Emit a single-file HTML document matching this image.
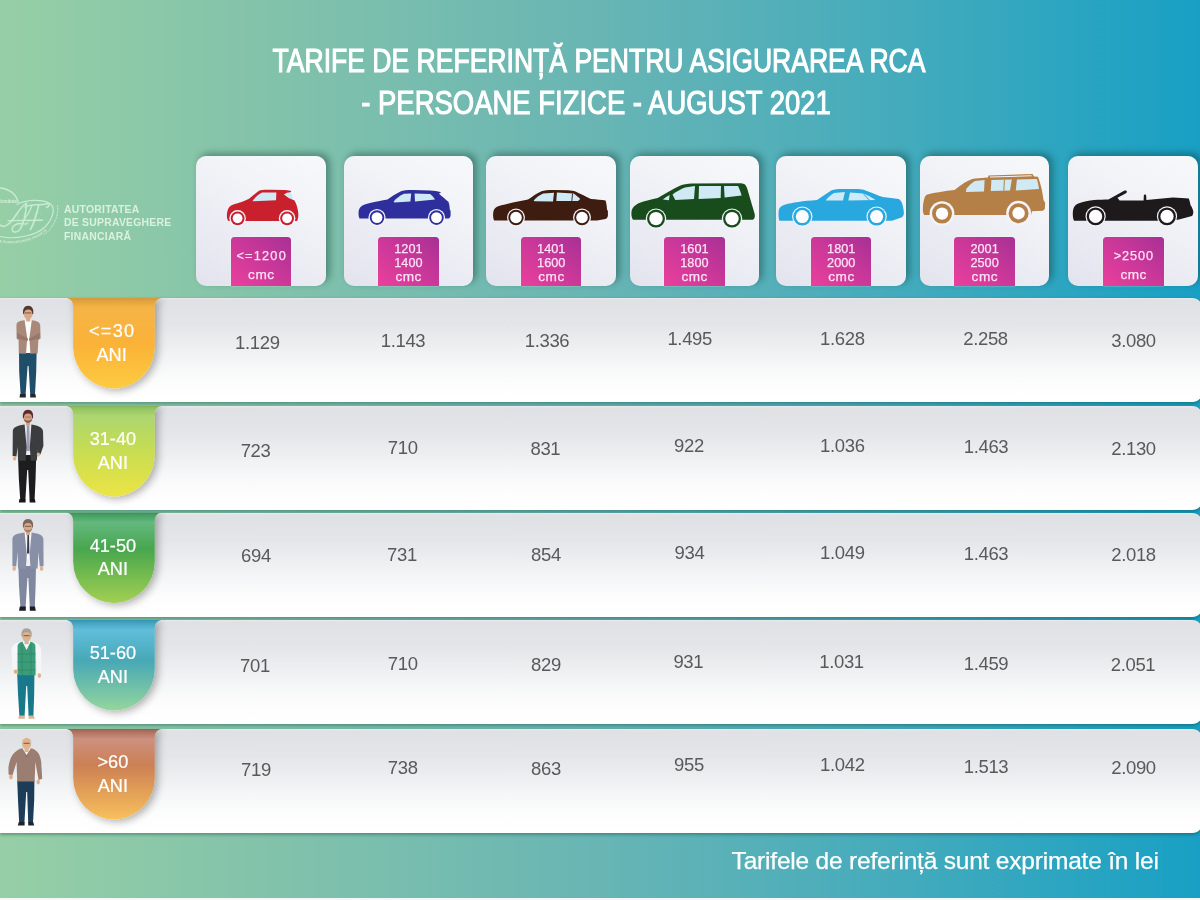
<!DOCTYPE html>
<html lang="ro"><head><meta charset="utf-8"><title>Tarife de referință RCA - persoane fizice - august 2021</title>
<style>
html,body{margin:0;padding:0}
html{background:#fff}
body{width:1200px;height:900px;position:relative;overflow:hidden;font-family:"Liberation Sans",sans-serif;
background:linear-gradient(to right,#96cfa6 0%,#80c1ab 25%,#68b5b4 50%,#44abbc 75%,#18a0c4 100%)}
.abs{position:absolute}
.strip{left:0;top:897.5px;width:1200px;height:3px;background:#f4f6f7}
.title{color:#fff;font-size:33px;line-height:36px;white-space:nowrap;-webkit-text-stroke:1.1px #fff}
.t1{left:598.5px;top:42.6px;transform:translateX(-50%) scaleX(0.8045)}
.t2{left:596px;top:84.6px;transform:translateX(-50%) scaleX(0.832)}
.logotxt{left:64px;top:202.5px;color:#d9f1de;font-weight:bold;font-size:10.4px;line-height:13.5px;white-space:nowrap;letter-spacing:0.25px}
.card{width:129.5px;height:129.5px;top:156.3px;border-radius:10px;background:linear-gradient(28deg,#e2e3ed 0%,#ebecf3 35%,#f3f4f8 70%,#f7f8fa 100%);box-shadow:3.5px -3px 7px rgba(0,40,30,.36)}
.lab{width:60.4px;height:49px;top:236.5px;border-radius:3.5px 3.5px 0 0;background:linear-gradient(40deg,#ea409c 0%,#cb3899 50%,#a83094 100%);color:#fde2f5;font-size:12.7px;line-height:14px;text-align:center;white-space:nowrap;box-shadow:0 0 1.5px rgba(255,255,255,.9);-webkit-text-stroke:0.25px #fde2f5}
.lab div{position:absolute;left:0;width:100%}
.row{left:0;width:1202.5px;border-radius:0 11px 11px 0;background:linear-gradient(to bottom,#e9eaed 0,#dfe1e5 2%,#e3e5e8 25%,#eceef0 45%,#f6f7f8 65%,#fdfdfd 82%,#fff 100%);box-shadow:0 1.5px 3px rgba(0,60,50,.35)}
.num{color:#58595b;font-size:18.5px;line-height:20px;height:20px;white-space:nowrap;transform:translate(-50%,-50%);letter-spacing:-0.35px}
.tagtxt{width:82px;text-align:center;color:#fff;font-size:18.2px;line-height:23.5px;white-space:nowrap;-webkit-text-stroke:0.2px #fff}
.foot{left:731.6px;-webkit-text-stroke:0.25px #fff;top:846.4px;color:#fff;font-size:24.5px;line-height:30px;white-space:nowrap;letter-spacing:-0.2px}
svg{position:absolute;overflow:visible}
</style></head><body>
<div class="abs title t1">TARIFE DE REFERINȚĂ PENTRU ASIGURAREA RCA</div>
<div class="abs title t2">- PERSOANE FIZICE - AUGUST 2021</div>
<svg class="abs" style="left:0;top:180px" width="62" height="70" viewBox="0 180 62 70">
<defs><path id="arcBot" d="M-3,241.5 C14,246 34,242 47,230.5"/></defs>
<g fill="none" stroke="#d6f1dc" stroke-linecap="round" opacity=".82">
<path d="M0,188 C9,189 16,194 18.4,202.5" stroke-width="1.3"/>
<path d="M17,204.5 C26,199.5 42,199 50,203.5 C56,208 53,219 45,227 C36,235.5 16,240 0,236.5" stroke-width="1.2"/>
<path d="M57.5,205.5 C59,215 54,227 44.5,234.6" stroke-width="0.9" stroke-dasharray="1.6 1.4"/>
<path d="M-2,222.5 C3,231 10,224 16,215 C20,209 23,205 26.4,203.4 C26,212 24,223 20,229.4 C17,233.6 11,232.6 12.4,228 C14,224 19,222.5 23,224" stroke-width="1.5"/>
<path d="M8,220.6 L42.5,220.2" stroke-width="1.4"/>
<path d="M25,207 C31,204 40,205.4 45.6,204 C50.4,202.6 50,206.4 46.4,207.2" stroke-width="1.4"/>
<path d="M38.6,205.4 C37,213 34,223 30.4,229.6" stroke-width="1.7"/>
<path d="M32,205.6 C30,211 27.6,215.4 24.6,218.4 C21,222 24,226 27.4,223" stroke-width="1.3"/>
</g>
<text x="-2.5" y="203.4" font-family="Liberation Sans,sans-serif" font-weight="bold" font-size="4.6" fill="#dcf3e1" opacity=".9">România</text>
<text font-family="Liberation Sans,sans-serif" font-weight="bold" font-size="3.3" fill="#dcf3e1" opacity=".8" letter-spacing=".15"><textPath href="#arcBot" startOffset="0">DE SUPRAVEGHERE FINANCIARĂ</textPath></text>
<text x="10" y="226" font-family="Liberation Serif,serif" font-style="italic" font-size="20" fill="#d6f1dc" opacity=".13" textLength="32" lengthAdjust="spacingAndGlyphs">ASF</text>
</svg>
<div class="abs logotxt">AUTORITATEA<br>DE SUPRAVEGHERE<br>FINANCIARĂ</div>
<div class="abs card" style="left:196.3px"></div>
<div class="abs card" style="left:343.7px"></div>
<div class="abs card" style="left:486.3px"></div>
<div class="abs card" style="left:629.7px"></div>
<div class="abs card" style="left:776.3px"></div>
<div class="abs card" style="left:919.7px"></div>
<div class="abs card" style="left:1068.2px"></div>
<div class="abs lab" style="left:230.9px"><div style="top:12.2px; letter-spacing:1.25px;margin-left:0.6px;">&lt;=1200</div><div style="top:31.2px; font-size:13.6px;letter-spacing:0.55px;margin-left:0.3px;">cmc</div></div>
<div class="abs lab" style="left:378.2px"><div style="top:5.2px;">1201</div><div style="top:19.2px;">1400</div><div style="top:33.0px; font-size:13.6px;letter-spacing:0.55px;margin-left:0.3px;">cmc</div></div>
<div class="abs lab" style="left:521.0px"><div style="top:5.2px;">1401</div><div style="top:19.2px;">1600</div><div style="top:33.0px; font-size:13.6px;letter-spacing:0.55px;margin-left:0.3px;">cmc</div></div>
<div class="abs lab" style="left:664.2px"><div style="top:5.2px;">1601</div><div style="top:19.2px;">1800</div><div style="top:33.0px; font-size:13.6px;letter-spacing:0.55px;margin-left:0.3px;">cmc</div></div>
<div class="abs lab" style="left:811.0px"><div style="top:5.2px;">1801</div><div style="top:19.2px;">2000</div><div style="top:33.0px; font-size:13.6px;letter-spacing:0.55px;margin-left:0.3px;">cmc</div></div>
<div class="abs lab" style="left:954.4px"><div style="top:5.2px;">2001</div><div style="top:19.2px;">2500</div><div style="top:33.0px; font-size:13.6px;letter-spacing:0.55px;margin-left:0.3px;">cmc</div></div>
<div class="abs lab" style="left:1103.2px"><div style="top:12.2px; letter-spacing:0.9px;margin-left:0.45px;">&gt;2500</div><div style="top:31.2px; font-size:13.6px;letter-spacing:0.55px;margin-left:0.3px;">cmc</div></div>
<svg class="abs" style="left:0;top:0" width="1200" height="300" viewBox="0 0 1200 300">
<g><path fill="#c8202c" d="M228.5,221 C226.5,219 226.5,214 227.6,210.5 C228.5,207 230.5,205.3 234,204.3 C240,202.6 245,201 249,198.8 C252,196.5 255,193.5 259,190.8 C261,189.9 264,189.7 270,189.7 L285,190 C288,190.2 290,190.6 291.3,191.3 L290.6,192.3 L285.5,193 C288,196.5 291,199 294.5,200.5 C296,203 297.5,207 298.2,212 C298.6,216 298.2,219 297,221 Z"/><path fill="#cfeaf5" d="M252.3,201.2 C255,197.5 258.5,194.5 262,192.5 L276.4,192.5 L276,200.3 Z"/><path fill="#cfeaf5" d="M283.8,194.3 L290.7,192.6 C291.8,195 292.6,197.5 293,199.6 C290.5,199.2 287,197.5 283.8,194.3 Z"/><circle cx="237.6" cy="218.3" r="8.3" fill="#f3f3f8"/><circle cx="237.6" cy="218.3" r="6.9" fill="#c8202c"/><circle cx="237.6" cy="218.3" r="4.9" fill="#fdfdff"/><circle cx="287.1" cy="218.3" r="8.3" fill="#f3f3f8"/><circle cx="287.1" cy="218.3" r="6.9" fill="#c8202c"/><circle cx="287.1" cy="218.3" r="4.9" fill="#fdfdff"/></g>
<g><path fill="#2e2e9c" d="M359.5,218.6 C358.3,216 358.3,212 359,209.5 C360,206.5 363,205 368,203.6 C375,201.8 382,200.6 387.5,199.6 C391,197 396,193.5 401,191.2 C403,190.3 407,190 413,190 L430,190.4 C434,190.7 437.5,191.2 440.3,192 L440.8,193 L438.8,193.6 C442,196.5 445.5,199.5 448.6,202 C449.3,204.5 449.8,207 449.8,209.5 L450.6,211 L450.6,215.5 C450.3,217.3 449.6,218.3 448.5,218.6 Z"/><path fill="#cfeaf5" d="M393.6,201.6 C396,198.5 400,195.5 404,193.7 L411.2,193.5 L410.4,201.6 L394.5,202.4 Z"/><path fill="#cfeaf5" d="M414.6,193.5 L430.2,194 C432,195.5 433.8,197.5 435,199.6 L415,201.5 Z"/><circle cx="377" cy="217.6" r="8.6" fill="#f3f3f8"/><circle cx="377" cy="217.6" r="7.3" fill="#2e2e9c"/><circle cx="377" cy="217.6" r="5.4" fill="#fdfdff"/><circle cx="436.5" cy="217.6" r="8.6" fill="#f3f3f8"/><circle cx="436.5" cy="217.6" r="7.3" fill="#2e2e9c"/><circle cx="436.5" cy="217.6" r="5.4" fill="#fdfdff"/></g>
<g><path fill="#3e1c10" d="M494.2,220.6 C493,218.5 492.8,214.5 493.4,211.5 C494,208.5 496,207 499,206 C506,204 518,201.5 528,199.6 C532,196.8 537,193 541.5,191.2 C544,190.3 548,190 554,190 L568,190.2 C571,190.4 573.5,190.8 575.5,191.5 C581,194 586,196.7 591,199 C596,199.4 602,199.8 605.6,200.6 C606.3,203 606.8,206 607,209.5 L607.9,211 L607.9,215.8 C607.5,217.6 606.7,218.6 605.5,219 L597,220.6 Z"/><path fill="#cfeaf5" d="M533.6,200.4 C536.5,197.3 540,194.8 543.2,193.5 L554,192.7 L553,201.4 L534.6,201.2 Z"/><path fill="#cfeaf5" d="M556.9,192.6 L573.6,193.4 C576,195 578.5,197 580.2,199 L578,201 L556.3,201 Z"/><path d="M572.6,193.4 L571.8,201" stroke="#3e1c10" stroke-width="0.9"/><circle cx="516" cy="217.5" r="9.0" fill="#f3f3f8"/><circle cx="516" cy="217.5" r="7.7" fill="#3e1c10"/><circle cx="516" cy="217.5" r="5.8" fill="#fdfdff"/><circle cx="582" cy="217.5" r="9.0" fill="#f3f3f8"/><circle cx="582" cy="217.5" r="7.7" fill="#3e1c10"/><circle cx="582" cy="217.5" r="5.8" fill="#fdfdff"/></g>
<g><path fill="#184c1c" d="M633,219.8 C631.5,218 631,214 631.6,211 C632.2,208 634,205.8 638.5,203.2 C645,200.8 652,199.2 657.7,198 C665,193.8 673,189 680.4,185.6 C683,184.3 687,183.6 692,183.4 L738,183.2 C741.5,183.2 744,183.6 745,184.6 C746.5,186.5 747.5,189 748.2,192 C749.5,196.5 751,201 752,205 C753,208 753.8,210.5 754.2,212.5 C755,214 755,216.5 754.6,217.6 C754.2,219 753.4,219.6 752.6,219.8 Z"/><path fill="#cfeaf5" d="M662.8,199.6 C665,197.8 667.4,196.2 669.6,195 L669,200.2 Z"/><path fill="#cfeaf5" d="M672.5,194.5 C676.5,191.6 681,189 685,187.6 L695,186 L694,199 L675.3,200 Z"/><path fill="#cfeaf5" d="M699,186 L721,186 L720.7,198 L698.6,199 Z"/><path fill="#cfeaf5" d="M724,186 L738,186 C739.5,189 740.8,192.5 741.6,195.5 L724.6,197.5 Z"/><circle cx="656" cy="218.6" r="10.2" fill="#f3f3f8"/><circle cx="656" cy="218.6" r="9.0" fill="#184c1c"/><circle cx="656" cy="218.6" r="6.7" fill="#fdfdff"/><circle cx="732" cy="218.6" r="10.2" fill="#f3f3f8"/><circle cx="732" cy="218.6" r="9.0" fill="#184c1c"/><circle cx="732" cy="218.6" r="6.7" fill="#fdfdff"/></g>
<g><path fill="#29a8e0" d="M779.4,220.8 C778.4,218 778.3,213.5 778.8,210 C779.3,207.5 781.5,205.8 785.3,204.5 C792,202.6 803,201 817,200 C822,196.5 827,193 831.8,190.2 C834,189.3 838,188.9 844,188.9 L858,189.1 C861,189.3 863.5,189.7 865.5,190.4 C872,192.8 878,195.2 882.8,197 C888,197.6 894,198.2 898.7,199 C900.2,200 901.4,201.5 902,203 C903,206 903.7,209.5 903.9,213 C903.8,215 903,216.5 902,217.2 L892,220.8 Z"/><path fill="#cfeaf5" d="M825.6,200.4 C828,197.4 831,194.6 834,193 L844.9,192 L843,200.5 Z"/><path fill="#cfeaf5" d="M850,192.4 L863.6,193.4 C868,195.2 872,197.5 875.5,200 L848.3,200.5 Z"/><path d="M863,193.4 L869.5,200.3" stroke="#29a8e0" stroke-width="1"/><circle cx="802.3" cy="216.6" r="10.2" fill="#f3f3f8"/><circle cx="802.3" cy="216.6" r="9.0" fill="#29a8e0"/><circle cx="802.3" cy="216.6" r="6.5" fill="#fdfdff"/><circle cx="876.6" cy="216.6" r="10.2" fill="#f3f3f8"/><circle cx="876.6" cy="216.6" r="9.0" fill="#29a8e0"/><circle cx="876.6" cy="216.6" r="6.5" fill="#fdfdff"/></g>
<g><path fill="#b48048" d="M924,214.9 L923,212 C922.6,207 923.2,202 924.5,198 C925,196 926,194.8 927.3,194.4 C935,192.6 945,191 954.5,190 C958,187.3 961.5,184.6 964.8,182.5 C968,180.4 971.5,179 975,178.4 L988,177.6 L988.5,175.6 L1032.5,174 L1034,176.4 L1038,176.8 C1039.5,181 1041,186 1041.9,190 C1042.6,194 1043.2,197.5 1043.5,200 L1045.2,203 L1044.8,209 L1043,210.8 L1032,211.2 L1031,214.9 Z"/><path fill="#f3f3f8" d="M990,176.6 L1031.5,175.2 L1031.8,176.3 L990,177.6 Z"/><path fill="#cfeaf5" d="M965.9,192 L966.5,188.6 C969,185.6 972,182.8 975,181 L984.6,180 L984,191.5 Z"/><path fill="#cfeaf5" d="M991.4,180 L1011.8,179.5 L1010,190.5 L990.8,191 Z"/><path fill="#cfeaf5" d="M1016.9,179.5 L1036.7,179 C1037.8,182 1038.6,185.5 1039,189 L1015.8,190.5 Z"/><path d="M1004.4,179.7 L1003.8,190.7" stroke="#b48048" stroke-width="1"/><circle cx="942" cy="213.6" r="12.4" fill="#f3f3f8"/><circle cx="942" cy="213.6" r="10.0" fill="#b48048"/><circle cx="942" cy="213.6" r="6.2" fill="#fdfdff"/><circle cx="1018.6" cy="213.2" r="12.4" fill="#f3f3f8"/><circle cx="1018.6" cy="213.2" r="10.0" fill="#b48048"/><circle cx="1018.6" cy="213.2" r="6.2" fill="#fdfdff"/></g>
<g><path fill="#1e1a1c" d="M1074,220.8 C1072.8,218.5 1072.5,214 1073,210.5 C1073.5,207 1075.5,204.8 1078.3,203.6 C1083,201.8 1089,200.6 1094,200 C1099,199.6 1104,199.5 1108.4,199.4 L1124.6,190.6 C1125.6,190.2 1126.6,190.6 1126.9,191.6 C1127,192.3 1126.6,192.9 1126,193.2 L1117.5,197.8 L1119.6,200.4 L1143.6,200.4 L1143.8,196 C1143.9,195 1144.4,194.6 1145,194.6 C1145.7,194.6 1146.1,195 1146.2,196 L1146.4,200 C1155,199 1164,198 1173,197.4 C1179,197.6 1184,198 1188.8,198.6 C1189.6,201 1190.2,203 1190.5,205 C1191.8,207 1193,209.5 1193.3,211.5 C1193.4,213.5 1192.8,215.2 1192,216 L1179,219.5 L1170,220.8 Z"/><circle cx="1095.6" cy="216.4" r="10.1" fill="#f3f3f8"/><circle cx="1095.6" cy="216.4" r="8.9" fill="#1e1a1c"/><circle cx="1095.6" cy="216.4" r="6.6" fill="#fdfdff"/><circle cx="1167" cy="216.4" r="10.1" fill="#f3f3f8"/><circle cx="1167" cy="216.4" r="8.9" fill="#1e1a1c"/><circle cx="1167" cy="216.4" r="6.6" fill="#fdfdff"/></g>
</svg>
<div class="abs row" style="top:298px;height:104.3px"></div>
<div class="abs row" style="top:406px;height:104.0px"></div>
<div class="abs row" style="top:512.6px;height:104.2px"></div>
<div class="abs row" style="top:620px;height:103.5px"></div>
<div class="abs row" style="top:729px;height:104.0px"></div>
<svg class="abs" style="left:0;top:0" width="240" height="900" viewBox="0 0 240 900">
<defs><filter id="sh" x="-30%" y="-20%" width="170%" height="150%"><feGaussianBlur in="SourceAlpha" stdDeviation="4.2"/><feOffset dx="2.5" dy="2"/><feComponentTransfer><feFuncA type="linear" slope="0.33"/></feComponentTransfer><feMerge><feMergeNode/><feMergeNode in="SourceGraphic"/></feMerge></filter><linearGradient id="tg0" x1="0" y1="0" x2="0" y2="1"><stop offset="0" stop-color="#cf9a3c"/><stop offset="0.03" stop-color="#e0a23e"/><stop offset="0.11" stop-color="#f6b446"/><stop offset="0.5" stop-color="#fab238"/><stop offset="1" stop-color="#fdcb40"/></linearGradient><linearGradient id="tg1" x1="0" y1="0" x2="0" y2="1"><stop offset="0" stop-color="#84b45a"/><stop offset="0.03" stop-color="#94c462"/><stop offset="0.11" stop-color="#acd670"/><stop offset="0.45" stop-color="#c4dc54"/><stop offset="1" stop-color="#ece444"/></linearGradient><linearGradient id="tg2" x1="0" y1="0" x2="0" y2="1"><stop offset="0" stop-color="#3a9058"/><stop offset="0.03" stop-color="#46a062"/><stop offset="0.11" stop-color="#64b87e"/><stop offset="0.4" stop-color="#48a64e"/><stop offset="1" stop-color="#a2d052"/></linearGradient><linearGradient id="tg3" x1="0" y1="0" x2="0" y2="1"><stop offset="0" stop-color="#3492ae"/><stop offset="0.03" stop-color="#44a4c0"/><stop offset="0.11" stop-color="#60bedb"/><stop offset="0.45" stop-color="#48a8b6"/><stop offset="1" stop-color="#94d69c"/></linearGradient><linearGradient id="tg4" x1="0" y1="0" x2="0" y2="1"><stop offset="0" stop-color="#9c5e50"/><stop offset="0.03" stop-color="#b07060"/><stop offset="0.11" stop-color="#cc907e"/><stop offset="0.4" stop-color="#cc8054"/><stop offset="1" stop-color="#f8c05c"/></linearGradient></defs>
<clipPath id="cp0"><rect x="0" y="298" width="240" height="104.8"/></clipPath><g clip-path="url(#cp0)"><path filter="url(#sh)" fill="url(#tg0)" d="M66.7,298 C70.7,298.8 73.2,301.5 73.2,307 L73.2,346.9 A40.75,41.5 0 0 0 113.95,388.4 A40.75,41.5 0 0 0 154.7,346.9 L154.7,307 C154.7,301.5 157.2,298.8 161.2,298 Z"/></g>
<clipPath id="cp1"><rect x="0" y="406" width="240" height="104.5"/></clipPath><g clip-path="url(#cp1)"><path filter="url(#sh)" fill="url(#tg1)" d="M66.7,406 C70.7,406.8 73.2,409.5 73.2,415 L73.2,454.9 A40.75,41.5 0 0 0 113.95,496.4 A40.75,41.5 0 0 0 154.7,454.9 L154.7,415 C154.7,409.5 157.2,406.8 161.2,406 Z"/></g>
<clipPath id="cp2"><rect x="0" y="512.6" width="240" height="104.7"/></clipPath><g clip-path="url(#cp2)"><path filter="url(#sh)" fill="url(#tg2)" d="M66.7,512.6 C70.7,513.4 73.2,516.1 73.2,521.6 L73.2,561.5 A40.75,41.5 0 0 0 113.95,603.0 A40.75,41.5 0 0 0 154.7,561.5 L154.7,521.6 C154.7,516.1 157.2,513.4 161.2,512.6 Z"/></g>
<clipPath id="cp3"><rect x="0" y="620" width="240" height="104.0"/></clipPath><g clip-path="url(#cp3)"><path filter="url(#sh)" fill="url(#tg3)" d="M66.7,620 C70.7,620.8 73.2,623.5 73.2,629 L73.2,668.9 A40.75,41.5 0 0 0 113.95,710.4 A40.75,41.5 0 0 0 154.7,668.9 L154.7,629 C154.7,623.5 157.2,620.8 161.2,620 Z"/></g>
<clipPath id="cp4"><rect x="0" y="729" width="240" height="104.5"/></clipPath><g clip-path="url(#cp4)"><path filter="url(#sh)" fill="url(#tg4)" d="M66.7,729 C70.7,729.8 73.2,732.5 73.2,738 L73.2,777.9 A40.75,41.5 0 0 0 113.95,819.4 A40.75,41.5 0 0 0 154.7,777.9 L154.7,738 C154.7,732.5 157.2,729.8 161.2,729 Z"/></g>
</svg>
<div class="abs tagtxt" style="left:70.6px;top:320.2px"><span style="letter-spacing:1.2px;margin-right:-1.2px">&lt;=30</span><br>ANI</div>
<div class="abs tagtxt" style="left:71.9px;top:428.2px">31-40<br>ANI</div>
<div class="abs tagtxt" style="left:71.9px;top:534.8px">41-50<br>ANI</div>
<div class="abs tagtxt" style="left:71.9px;top:642.2px">51-60<br>ANI</div>
<div class="abs tagtxt" style="left:71.9px;top:751.2px">&gt;60<br>ANI</div>
<svg class="abs" style="left:0;top:0" width="70" height="900" viewBox="0 0 70 900">
<g>
<path fill="#1f4e6a" d="M19,352 L36.6,352 L36.2,372 L35,394.6 L30.2,394.6 L28.6,366 L27.6,366 L25.6,394.6 L20.6,394.6 L19.2,372 Z"/>
<path fill="#24282c" d="M20,394 L25.8,394 L25.8,397.6 L19.6,397.6 Z M30.2,394 L35.4,394 L36,397.6 L30.2,397.6 Z"/>
<path fill="#fbfbfb" d="M24.6,320.5 L31.8,320.5 L31.2,353 L25.2,353 Z"/>
<path fill="#a98879" d="M16.4,325 C16.8,322 19,320.8 24.6,320.2 L27.2,338 L26,353.8 L18.8,353.4 L18.6,340 L16.6,338.6 Z M31.8,320.2 C37,320.8 39.6,322 40.2,325 L40.6,338.6 L38.4,340 L37.6,353.4 L30.4,353.8 L29.4,338 Z"/>
<path fill="#97776a" d="M17,333 L28,338.4 L27.6,341 L17.4,338.6 Z M39.8,333 L29,338.4 L29.4,341 L39.4,338.6 Z"/>
<rect x="26.2" y="316.29999999999995" width="4" height="5.2" fill="#dba987"/><ellipse cx="28.2" cy="313.2" rx="4.5" ry="6" fill="#dba987"/><path fill="#553630" d="M23.299999999999997,314.29999999999995 C22.2,308.9 24.599999999999998,305.7 28.2,305.7 C31.8,305.7 34.2,308.9 33.1,314.29999999999995 L32.2,313.9 C32.4,311.09999999999997 31.2,309.5 28.2,309.5 C25.2,309.5 24.0,311.09999999999997 24.2,313.9 Z"/><rect x="24.9" y="312.29999999999995" width="6.6" height="1.3" rx="0.6" fill="#4a352c" opacity="0.55"/>
</g>
<g>
<path fill="#1d1d1f" d="M18,455 L36.2,455 L35.6,478 L34.6,499.6 L29.6,499.6 L28.2,470 L27.2,470 L25.4,499.6 L20.2,499.6 L18.8,478 Z"/>
<path fill="#18181a" d="M19.4,499 L25.6,499 L25.6,502.6 L18.8,502.6 Z M29.6,499 L34.8,499 L35.6,502.6 L29.6,502.6 Z"/>
<path fill="#e9e9ee" d="M24.6,424.6 L31.4,424.6 L31,452 L25.4,452 Z"/>
<path fill="#9a9ab4" d="M26.9,425.5 L29.3,425.5 L29.9,451 L26.3,451 Z"/>
<path fill="#3b3c3e" d="M12.8,431 C13.2,427.4 16,425.6 24.6,424.4 L26.6,447 L25.6,460.8 L18,460.4 L17.6,447 L16.4,456.6 L12.6,456 Z M31.4,424.4 C39,425.6 42.4,427.4 43,431 L43.4,446 L40.4,454.4 L37.6,453.4 L38.4,444 L36.8,460.4 L30.8,460.8 L29.8,447 Z"/>
<ellipse cx="14.6" cy="458.4" rx="1.7" ry="2.2" fill="#e2b08c"/><ellipse cx="38.4" cy="454.6" rx="1.6" ry="2" fill="#e2b08c"/>
<rect x="26" y="420.4" width="4" height="5.2" fill="#d6a182"/><ellipse cx="28" cy="417.3" rx="4.5" ry="6" fill="#d6a182"/><path fill="#5a2e2a" d="M23.1,418.4 C22,413 24.4,409.8 28,409.8 C31.6,409.8 34,413 32.9,418.4 L32,418 C32.2,415.2 31,413.6 28,413.6 C25,413.6 23.8,415.2 24,418 Z"/><rect x="24.7" y="416.4" width="6.6" height="1.3" rx="0.6" fill="#4a352c" opacity="0.3"/><path fill="#6b4a3e" opacity=".8" d="M23.7,418.6 C24.4,424.4 31.6,424.4 32.3,418.6 C30.6,421.6 25.4,421.6 23.7,418.6 Z"/>
</g>
<g>
<path fill="#8088a0" d="M18.4,566 L36,566 L35.6,586 L34.8,607.4 L29.8,607.4 L28.4,578 L27.4,578 L25.6,607.4 L20.4,607.4 L19,586 Z"/>
<path fill="#1c1c22" d="M19.8,606.6 L25.8,606.6 L25.8,610.8 L19,610.8 Z M29.8,606.6 L35,606.6 L35.8,610.8 L29.8,610.8 Z"/>
<path fill="#f4f4f6" d="M24.6,533 L31.6,533 L31,560 L25.4,560 Z"/>
<path fill="#3a3a4a" d="M27.4,535 L29,535 L29.4,553.6 L27,553.6 Z"/>
<rect x="26.8" y="555" width="3" height="3.2" fill="#fff"/>
<path fill="#8890a8" d="M12.4,539 C12.8,535.4 15.6,533.8 24.6,532.6 L26.8,555 L25.8,569 L18,568.6 L17.6,552 L16.2,566.6 L12.4,566.2 Z M31.6,532.6 C39.6,533.8 42.8,535.4 43.4,539 L43.6,566.2 L39.8,566.6 L38.4,552 L37.6,568.6 L30.6,569 L29.6,555 Z"/>
<ellipse cx="14.2" cy="568.6" rx="1.7" ry="2.3" fill="#e2b08c"/><ellipse cx="41.6" cy="568.6" rx="1.7" ry="2.3" fill="#e2b08c"/>
<rect x="26" y="529.6999999999999" width="4" height="5.2" fill="#d8a888"/><ellipse cx="28" cy="526.5999999999999" rx="4.5" ry="6" fill="#d8a888"/><path fill="#7d675a" d="M23.1,527.6999999999999 C22,522.3 24.4,519.0999999999999 28,519.0999999999999 C31.6,519.0999999999999 34,522.3 32.9,527.6999999999999 L32,527.3 C32.2,524.5 31,522.9 28,522.9 C25,522.9 23.8,524.5 24,527.3 Z"/><rect x="24.7" y="525.6999999999999" width="6.6" height="1.3" rx="0.6" fill="#4a352c" opacity="0.55"/><path fill="#8a7466" opacity=".8" d="M23.7,527.9 C24.4,533.6999999999999 31.6,533.6999999999999 32.3,527.9 C30.6,530.9 25.4,530.9 23.7,527.9 Z"/>
</g>
<g>
<path fill="#18788c" d="M17.2,674 L34.4,674 L34.2,694 L33.4,716 L28.6,716 L27.2,686 L26.2,686 L24.6,716 L19.4,716 L18,694 Z"/>
<path fill="#d8b494" d="M19,715.4 L24.8,715.4 L24.8,718.8 L18.2,718.8 Z M28.6,715.4 L33.8,715.4 L34.6,718.8 L28.6,718.8 Z"/>
<path fill="#f6f6f8" d="M11.4,650 C11.8,645.6 14.6,643.2 21,641.8 L32,641.8 C38,643.2 40.8,645.6 41.2,650 L41.4,673 L37.8,673.4 L35.6,652 L17.4,652 L16.4,670 L12.6,669.6 Z"/>
<path fill="#3a9c78" d="M17.6,646 C18,643.6 19.6,642.4 22.4,641.8 L26.6,650 L30.6,641.8 C33.4,642.4 35,643.6 35.4,646 L35.6,675.2 L17.6,675.2 Z"/>
<path stroke="#2f8466" stroke-width="1" fill="none" opacity=".6" d="M17.6,654 L35.6,654 M17.6,662 L35.6,662 M17.6,670 L35.6,670 M22,644 L22,675 M31,644 L31,675"/>
<ellipse cx="15.8" cy="671.6" rx="2" ry="2.2" fill="#e8a878"/><ellipse cx="39.4" cy="675.6" rx="1.7" ry="2.4" fill="#e2b08c"/>
<rect x="24.6" y="638.9" width="4" height="5.2" fill="#dcb088"/><ellipse cx="26.6" cy="635.8" rx="4.5" ry="6" fill="#dcb088"/><path fill="#a8a199" d="M21.700000000000003,636.9 C20.6,631.5 23.0,628.3 26.6,628.3 C30.200000000000003,628.3 32.6,631.5 31.5,636.9 L30.6,636.5 C30.8,633.7 29.6,632.1 26.6,632.1 C23.6,632.1 22.400000000000002,633.7 22.6,636.5 Z"/><rect x="23.3" y="634.9" width="6.6" height="1.3" rx="0.6" fill="#4a352c" opacity="0.55"/><path fill="#c2bdb6" opacity=".8" d="M22.3,637.1 C23.0,642.9 30.200000000000003,642.9 30.900000000000002,637.1 C29.200000000000003,640.1 24.0,640.1 22.3,637.1 Z"/>
</g>
<g>
<path fill="#1c3c58" d="M17.2,780 L34.4,780 L34.2,800 L33,822.8 L28.2,822.8 L27.2,792 L26.2,792 L24.4,822.8 L19.2,822.8 L18,800 Z"/>
<path fill="#20242c" d="M18.8,822 L24.6,822 L24.6,825.6 L17.8,825.6 Z M28.2,822 L33.2,822 L34.2,825.6 L28.2,825.6 Z"/>
<path fill="#9c7d71" d="M8.4,768 C9.6,758 13,751.6 21,748.6 L32,748.6 C37.6,750.6 40.4,755 41.2,762 L42.2,778.8 L38.6,780 L35.4,762 L34.6,781.4 L17.2,781.4 L16.6,762 L12.4,775.6 L8.6,774.6 Z"/>
<path fill="#f6f2ec" d="M22.6,748.4 L26.6,756 L30.6,748.4 L29,747.4 L26.6,752 L24.2,747.4 Z"/>
<path fill="#7e6258" d="M23.4,749.6 L26.6,757.6 L29.8,749.6 L26.6,755.4 Z"/>
<ellipse cx="11" cy="777" rx="1.9" ry="2.4" fill="#e2b08c"/><ellipse cx="38.2" cy="782" rx="1.7" ry="2.4" fill="#e2b08c"/>
<rect x="24.6" y="746.8" width="4" height="5.2" fill="#e6b080"/><ellipse cx="26.6" cy="743.6999999999999" rx="4.5" ry="6" fill="#e6b080"/><path fill="#cfc8c0" d="M21.900000000000002,745.0 C21.400000000000002,742.0 22.0,739.6 23.200000000000003,738.4 L23.200000000000003,744.0 Z M31.3,745.0 C31.8,742.0 31.200000000000003,739.6 30.0,738.4 L30.0,744.0 Z"/><rect x="23.3" y="742.8" width="6.6" height="1.3" rx="0.6" fill="#4a352c" opacity="0.55"/><path fill="#c8c0b8" opacity=".8" d="M22.3,745.0 C23.0,750.8 30.200000000000003,750.8 30.900000000000002,745.0 C29.200000000000003,748.0 24.0,748.0 22.3,745.0 Z"/>
</g>
</svg>
<div class="abs num" style="left:257.3px;top:343.1px">1.129</div><div class="abs num" style="left:403px;top:341.1px">1.143</div><div class="abs num" style="left:547px;top:341.4px">1.336</div><div class="abs num" style="left:689.7px;top:339.2px">1.495</div><div class="abs num" style="left:842.3px;top:339.2px">1.628</div><div class="abs num" style="left:985.5px;top:339.4px">2.258</div><div class="abs num" style="left:1133.5px;top:340.7px">3.080</div>
<div class="abs num" style="left:255.6px;top:450.8px">723</div><div class="abs num" style="left:402.7px;top:448.0px">710</div><div class="abs num" style="left:545.4px;top:448.9px">831</div><div class="abs num" style="left:689px;top:446.3px">922</div><div class="abs num" style="left:842.3px;top:445.8px">1.036</div><div class="abs num" style="left:986px;top:447.2px">1.463</div><div class="abs num" style="left:1133.5px;top:448.6px">2.130</div>
<div class="abs num" style="left:256px;top:556.4px">694</div><div class="abs num" style="left:402px;top:554.8px">731</div><div class="abs num" style="left:546px;top:555.2px">854</div><div class="abs num" style="left:689.5px;top:553.3px">934</div><div class="abs num" style="left:842.3px;top:553.1px">1.049</div><div class="abs num" style="left:986px;top:554.0px">1.463</div><div class="abs num" style="left:1133.5px;top:555.4px">2.018</div>
<div class="abs num" style="left:255px;top:665.8px">701</div><div class="abs num" style="left:402.7px;top:664.3px">710</div><div class="abs num" style="left:546px;top:665.2px">829</div><div class="abs num" style="left:688.3px;top:662.4px">931</div><div class="abs num" style="left:841.5px;top:662.0px">1.031</div><div class="abs num" style="left:986px;top:663.8px">1.459</div><div class="abs num" style="left:1133px;top:664.6px">2.051</div>
<div class="abs num" style="left:256px;top:769.8px">719</div><div class="abs num" style="left:402.7px;top:768.1px">738</div><div class="abs num" style="left:546px;top:768.6px">863</div><div class="abs num" style="left:689px;top:765.4px">955</div><div class="abs num" style="left:842.3px;top:765.3px">1.042</div><div class="abs num" style="left:986px;top:766.8px">1.513</div><div class="abs num" style="left:1133.5px;top:768.4px">2.090</div>
<div class="abs foot">Tarifele de referință sunt exprimate în lei</div>
<div class="abs strip"></div>
</body></html>
